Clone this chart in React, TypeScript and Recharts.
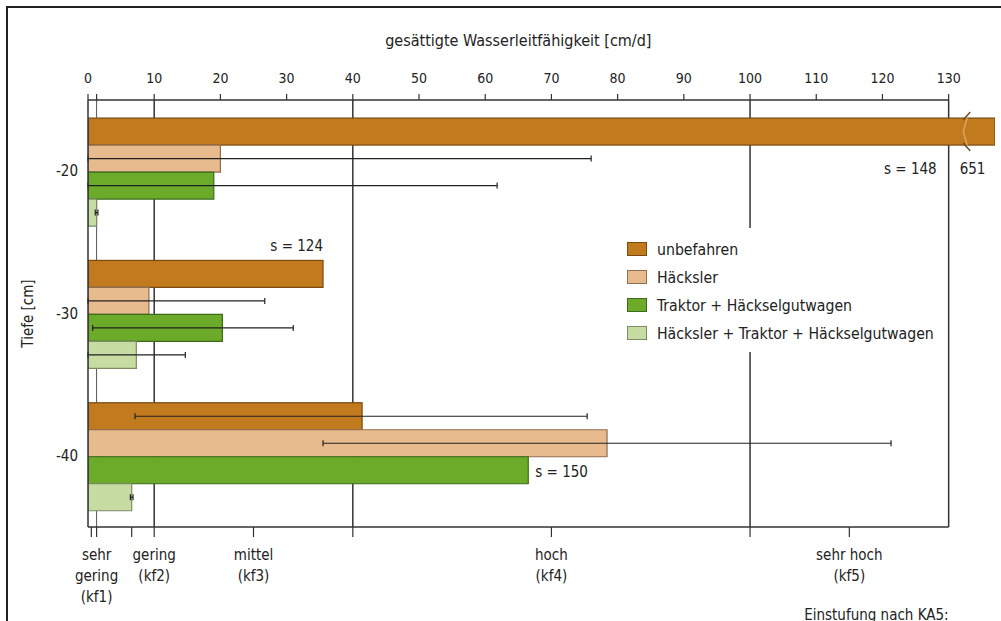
import React from 'react';
import {
  BarChart,
  Bar,
  XAxis,
  YAxis,
  CartesianGrid,
  ErrorBar,
  Legend,
  LabelList,
} from 'recharts';

const FONT = "'Liberation Sans Narrow', 'DejaVu Sans Condensed', 'Liberation Sans', sans-serif";

// ---- data ----
const categories = ['-20', '-30', '-40'];
const seriesNames = ['unbefahren', 'Häcksler', 'Traktor + Häckselgutwagen', 'Häcksler + Traktor + Häckselgutwagen'];
const unbefahren = [651, 35.5, 41.4];
const haecksler = [20.0, 9.2, 78.4];
const traktor = [19.0, 20.3, 66.5];
const hth = [1.3, 7.3, 6.6];

const unbefahrenErrLow = [null, null, 7.1];
const unbefahrenErrHigh = [null, null, 75.4];
const haeckslerErrLow = [0, 0, 35.5];
const haeckslerErrHigh = [76.0, 26.7, 121.3];
const traktorErrLow = [0, 0.7, null];
const traktorErrHigh = [61.8, 31.0, null];
const hthErrLow = [1.1, 0, 6.4];
const hthErrHigh = [1.5, 14.7, 6.8];

const unbefahrenSd = [148, 124, null];
const traktorSd = [null, null, 150];

const topTicks = [0, 1.3, 10, 20, 30, 40, 50, 60, 70, 80, 90, 100, 110, 120, 130];
const bottomTicks = [0.5, 1.3, 6.6, 10, 25, 40, 70, 100, 115];
const bottomTickLabels = [
  [],
  ['sehr', 'gering', '(kf1)'],
  [],
  ['gering', '(kf2)'],
  ['mittel', '(kf3)'],
  [],
  ['hoch', '(kf4)'],
  [],
  ['sehr hoch', '(kf5)'],
];
const classBoundaries = [10, 40, 100, 130];
const thinBoundaries = [1.3];
const AXIS_MAX = 130;
const AXIS_CAP = 137;
const BREAK_AT = 132.5;

const fills = ['#C27A1E', '#E7BB8E', '#6CAA2A', '#C7DCA2'];
const strokes = ['#7A4A12', '#8E6E52', '#3E6A1C', '#7C8A66'];

const errPair = (v: number, lo: number | null, hi: number | null) =>
  lo == null || hi == null ? undefined : [v - lo, hi - v];

const data = categories.map((c, i) => ({
  depth: c,
  u: Math.min(unbefahren[i], AXIS_CAP),
  uRaw: unbefahren[i],
  uErr: errPair(unbefahren[i], unbefahrenErrLow[i], unbefahrenErrHigh[i]),
  uSd: unbefahrenSd[i],
  h: haecksler[i],
  hErr: errPair(haecksler[i], haeckslerErrLow[i], haeckslerErrHigh[i]),
  t: traktor[i],
  tErr: errPair(traktor[i], traktorErrLow[i], traktorErrHigh[i]),
  tSd: traktorSd[i],
  x: hth[i],
  xErr: errPair(hth[i], hthErrLow[i], hthErrHigh[i]),
}));

const BreakBar = (props: any) => {
  const { x, y, width, height, fill, stroke, payload } = props;
  if (width == null || height == null) return null;
  const raw = payload ? payload.uRaw : 0;
  const rect = (
    <rect x={x} y={y} width={width} height={height} fill={fill} stroke={stroke} strokeWidth={1.2} />
  );
  if (!(raw > AXIS_CAP)) return rect;
  const bx = x + (width * BREAK_AT) / AXIS_CAP;
  return (
    <g>
      {rect}
      <path d={`M${bx + 2},${y} L${bx - 2},${y + height / 2} L${bx + 2},${y + height}`} stroke="#D9A257" strokeWidth={1.6} fill="none" />
      <path d={`M${bx - 2},${y + 2} L${bx + 5},${y - 6}`} stroke="#6A4A20" strokeWidth={1.4} />
      <path d={`M${bx - 2},${y + height - 2} L${bx + 5},${y + height + 6}`} stroke="#6A4A20" strokeWidth={1.4} />
    </g>
  );
};

const BottomTick = (props: any) => {
  const { x, y, payload } = props;
  const idx = bottomTicks.indexOf(payload.value);
  const lines = bottomTickLabels[idx] || [];
  if (!lines.length) return null;
  return (
    <text x={x} y={y} textAnchor="middle" fontFamily={FONT} fontSize={15} fill="#222">
      {lines.map((l, k) => (
        <tspan key={k} x={x} dy={k === 0 ? 19 : 21}>
          {l}
        </tspan>
      ))}
    </text>
  );
};

const renderUSd = (props: any) => {
  const vb = props.viewBox || props;
  const { x, y, width, height } = vb;
  const i = props.index;
  const sd = unbefahrenSd[i];
  if (sd == null || x == null) return null;
  if (unbefahren[i] > AXIS_CAP) {
    const x130 = x + (width * AXIS_MAX) / AXIS_CAP;
    const cy = y + height + 24;
    return (
      <g fontFamily={FONT} fontSize={15} fill="#222">
        <text x={x130 - 12} y={cy} textAnchor="end" dominantBaseline="central">{`s = ${sd}`}</text>
        <text x={x130 + 11} y={cy} textAnchor="start" dominantBaseline="central">{String(unbefahren[i])}</text>
      </g>
    );
  }
  return (
    <text x={x + width} y={y - 14} textAnchor="end" dominantBaseline="central" fontFamily={FONT} fontSize={15} fill="#222">
      {`s = ${sd}`}
    </text>
  );
};

const renderTSd = (props: any) => {
  const vb = props.viewBox || props;
  const { x, y, width, height } = vb;
  const sd = traktorSd[props.index];
  if (sd == null || x == null) return null;
  return (
    <text x={x + width + 7} y={y + height / 2 + 2} textAnchor="start" dominantBaseline="central" fontFamily={FONT} fontSize={15} fill="#222">
      {`s = ${sd}`}
    </text>
  );
};

const renderLegend = () => (
  <div style={{ background: '#fff', padding: '7px 6px', fontFamily: FONT, boxSizing: 'border-box', height: '100%' }}>
    {seriesNames.map((n, i) => (
      <div key={n} style={{ display: 'flex', alignItems: 'center', height: 28 }}>
        <span
          style={{
            display: 'inline-block',
            width: 20,
            height: 14,
            background: fills[i],
            border: `1.5px solid ${strokes[i]}`,
            boxSizing: 'border-box',
            marginRight: 10,
          }}
        />
        <span style={{ fontSize: 15.7, color: '#222', whiteSpace: 'nowrap' }}>{n}</span>
      </div>
    ))}
  </div>
);

export default function App() {
  return (
    <div style={{ position: 'absolute', left: 0, top: 0, width: 1001, height: 621, overflow: 'hidden', background: '#fff' }}>
      <div
        style={{
          position: 'absolute',
          left: 6,
          top: 6,
          width: 1100,
          height: 800,
          border: '2px solid #222',
          boxSizing: 'border-box',
        }}
      />
      <div style={{ position: 'absolute', left: 0, top: 0 }}>
        <BarChart
          width={1001}
          height={621}
          data={data}
          layout="vertical"
          margin={{ top: 0, right: 6, bottom: 0, left: 0 }}
          barGap={0}
          barCategoryGap="12.7%"
          style={{ fontFamily: FONT }}
        >
          <CartesianGrid xAxisId="top" horizontal={false} vertical verticalValues={classBoundaries} stroke="#333" strokeWidth={1.5} />
          <CartesianGrid xAxisId="top" horizontal={false} vertical verticalValues={thinBoundaries} stroke="#555" strokeWidth={1} />
          <XAxis
            xAxisId="top"
            orientation="top"
            type="number"
            domain={[0, AXIS_CAP]}
            allowDataOverflow
            ticks={topTicks}
            interval={0}
            height={100}
            tickSize={6}
            tickMargin={11}
            axisLine={false}
            tickLine={{ stroke: '#333', strokeWidth: 1.2 }}
            tick={{ fill: '#222', fontSize: 14, fontFamily: FONT }}
            tickFormatter={(v: number) => (v % 10 === 0 ? String(v) : '')}
            label={{
              content: (p: any) => {
                const vb = p.viewBox || {};
                const ex = vb.x + (vb.width * AXIS_MAX) / AXIS_CAP;
                const cx = (vb.x + ex) / 2;
                const ly = vb.y + vb.height;
                return (
                  <g>
                    <line x1={vb.x} y1={ly} x2={ex} y2={ly} stroke="#333" strokeWidth={1.5} />
                    <text x={cx} y={40} textAnchor="middle" dominantBaseline="central" fontFamily={FONT} fontSize={16} fill="#222">
                      gesättigte Wasserleitfähigkeit  [cm/d]
                    </text>
                  </g>
                );
              },
            }}
          />
          <XAxis
            xAxisId="bot"
            orientation="bottom"
            type="number"
            domain={[0, AXIS_CAP]}
            allowDataOverflow
            ticks={bottomTicks}
            interval={0}
            height={94}
            tickSize={10}
            tickMargin={4}
            axisLine={false}
            tickLine={{ stroke: '#333', strokeWidth: 1.2 }}
            tick={<BottomTick />}
            label={{
              content: (p: any) => {
                const vb = p.viewBox || {};
                const ex = vb.x + (vb.width * AXIS_MAX) / AXIS_CAP;
                return (
                  <g>
                    <line x1={vb.x} y1={vb.y} x2={ex} y2={vb.y} stroke="#333" strokeWidth={1.5} />
                    <text x={ex} y={vb.y + vb.height - 1} textAnchor="end" fontFamily={FONT} fontSize={15} fill="#222">
                      Einstufung nach KA5:
                    </text>
                  </g>
                );
              },
            }}
          />
          <YAxis
            dataKey="depth"
            type="category"
            width={88}
            tickLine={false}
            tickSize={8}
            axisLine={{ stroke: '#333', strokeWidth: 1.5 }}
            tick={{ fill: '#222', fontSize: 15, fontFamily: FONT }}
            label={{
              content: (p: any) => {
                const vb = p.viewBox || {};
                const cx = vb.x + 28;
                const cy = vb.y + vb.height / 2;
                return (
                  <text x={cx} y={cy} transform={`rotate(-90 ${cx} ${cy})`} textAnchor="middle" dominantBaseline="central" fontFamily={FONT} fontSize={15} fill="#222">
                    Tiefe  [cm]
                  </text>
                );
              },
            }}
          />
          <Bar xAxisId="top" dataKey="u" name={seriesNames[0]} fill={fills[0]} stroke={strokes[0]} strokeWidth={1.2} isAnimationActive={false} shape={BreakBar}>
            <ErrorBar dataKey="uErr" direction="x" width={3} stroke="#222" strokeWidth={1.2} isAnimationActive={false} />
            <LabelList dataKey="uSd" content={renderUSd} />
          </Bar>
          <Bar xAxisId="top" dataKey="h" name={seriesNames[1]} fill={fills[1]} stroke={strokes[1]} strokeWidth={1.2} isAnimationActive={false}>
            <ErrorBar dataKey="hErr" direction="x" width={3} stroke="#222" strokeWidth={1.2} isAnimationActive={false} />
          </Bar>
          <Bar xAxisId="top" dataKey="t" name={seriesNames[2]} fill={fills[2]} stroke={strokes[2]} strokeWidth={1.2} isAnimationActive={false}>
            <ErrorBar dataKey="tErr" direction="x" width={3} stroke="#222" strokeWidth={1.2} isAnimationActive={false} />
            <LabelList dataKey="tSd" content={renderTSd} />
          </Bar>
          <Bar xAxisId="top" dataKey="x" name={seriesNames[3]} fill={fills[3]} stroke={strokes[3]} strokeWidth={1.2} isAnimationActive={false}>
            <ErrorBar dataKey="xErr" direction="x" width={3} stroke="#222" strokeWidth={1.2} isAnimationActive={false} />
          </Bar>
          <Legend
            layout="vertical"
            align="center"
            verticalAlign="middle"
            content={renderLegend}
            wrapperStyle={{ left: 621, top: 228, width: 326, height: 124 }}
          />
        </BarChart>
      </div>
    </div>
  );
}
